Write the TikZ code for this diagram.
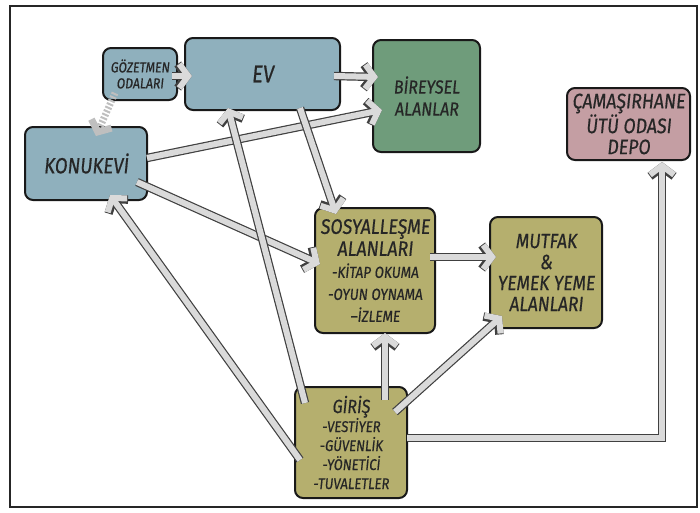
\documentclass[tikz,border=0pt]{standalone}
\usepackage{fontspec}
\setmainfont{Fira Sans}[FakeStretch=0.84, FakeSlant=0.1, FakeBold=0.5]
\usetikzlibrary{arrows.meta}
\definecolor{bluebox}{HTML}{8FB0BD}
\definecolor{greenbox}{HTML}{6F9C7B}
\definecolor{pinkbox}{HTML}{C49EA3}
\definecolor{olivebox}{HTML}{B5AF6E}
\definecolor{band}{HTML}{DADADA}
\definecolor{ink}{HTML}{262626}
\newcommand{\sostxt}{\fontsize{16}{21.5}\selectfont}
\newcommand{\girtxt}{\fontsize{15.5}{18.5}\selectfont}
\tikzset{
  room/.style={draw=black!90, line width=2pt, rounded corners=8pt, align=center,
    text=ink, inner sep=2pt},
  conn/.style={line width=6pt, draw=band, -{Straight Barb[length=9pt,width=24pt]},
    preaction={draw=black!75, line width=8.4pt, -{Straight Barb[length=9pt,width=24pt]}}},
  dconn/.style={line width=7pt, draw=gray!50, dash pattern=on 2pt off 1.8pt,
    -{Straight Barb[length=9pt,width=22pt]}}
}
\begin{document}
\begin{tikzpicture}[x=1pt,y=-1pt]
\useasboundingbox (0,0) rectangle (700,512);
\fill[white] (0,0) rectangle (700,512);
\draw[line width=1.3pt, black!85] (10,6) rectangle (697,507);

\node[room, fill=bluebox, minimum width=74pt, minimum height=52pt, font=\fontsize{14.5}{16}\selectfont] (goz) at (140,74) {GÖZETMEN\\ODALARI};
\node[room, fill=bluebox, minimum width=155pt, minimum height=72pt, font=\fontsize{24}{26}\selectfont] (ev) at (262.5,74) {EV};
\node[room, fill=bluebox, minimum width=122pt, minimum height=73pt, font=\fontsize{22}{24}\selectfont] (kon) at (86,163.5) {KONUKEVİ};
\node[room, fill=greenbox, minimum width=107pt, minimum height=112pt, font=\fontsize{19}{22}\selectfont] (bir) at (426.5,96) {BİREYSEL\\ALANLAR};
\node[room, fill=pinkbox, minimum width=123pt, minimum height=72pt, font=\fontsize{21}{21}\selectfont] (cam) at (628.5,124) {ÇAMAŞIRHANE\\ÜTÜ ODASI\\DEPO};
\node[room, fill=olivebox, minimum width=120pt, minimum height=125pt, font=\fontsize{21}{22}\selectfont] (sos) at (375,270.5) {SOSYALLEŞME\\ALANLARI\\\sostxt -KİTAP OKUMA\\\sostxt -OYUN OYNAMA\\\sostxt --İZLEME};
\node[room, fill=olivebox, minimum width=112pt, minimum height=111pt, font=\fontsize{20.5}{21}\selectfont] (mut) at (546,272.5) {MUTFAK\\\&\\YEMEK YEME\\ALANLARI};
\node[room, fill=olivebox, minimum width=112pt, minimum height=111pt, font=\fontsize{19}{19}\selectfont] (gir) at (351,442.5) {GİRİŞ\\\girtxt -VESTİYER\\\girtxt -GÜVENLİK\\\girtxt -YÖNETİCİ\\\girtxt -TUVALETLER};

\draw[conn] ([shift={(32,2)}]goz.center) -- ([shift={(-70.5,2)}]ev.center);
\draw[dconn] ([shift={(-25,19)}]goz.center) -- ([shift={(10,-27.5)}]kon.center);
\draw[conn] ([shift={(71.5,2)}]ev.center) -- ([shift={(-48.5,-19)}]bir.center);
\draw[conn] ([shift={(61,-5.5)}]kon.center) -- ([shift={(-44.5,14)}]bir.center);
\draw[conn] ([shift={(37.5,34)}]ev.center) -- ([shift={(-39,-56.5)}]sos.center);
\draw[conn] ([shift={(51,18.5)}]kon.center) -- ([shift={(-55,-6.5)}]sos.center);
\draw[conn] ([shift={(55,-13.5)}]sos.center) -- ([shift={(-50,-15.5)}]mut.center);
\draw[conn] ([shift={(34,-42.5)}]gir.center) -- ([shift={(10,62.5)}]sos.center);
\draw[conn] ([shift={(44,-30.5)}]gir.center) -- ([shift={(-44,43.5)}]mut.center);
\draw[conn] ([shift={(56,-4.5)}]gir.center) -| ([shift={(33.5,38)}]cam.center);
\draw[conn] ([shift={(-46,-39.5)}]gir.center) -- ([shift={(-34.5,34)}]ev.center);
\draw[conn] ([shift={(-51,17.5)}]gir.center) -- ([shift={(24,31.5)}]kon.center);
\end{tikzpicture}
\end{document}
